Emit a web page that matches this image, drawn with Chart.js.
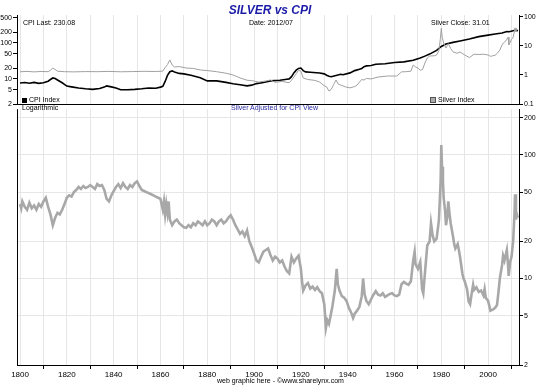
<!DOCTYPE html>
<html>
<head>
<meta charset="utf-8">
<script src="https://cdn.jsdelivr.net/npm/chart.js@4.4.1/dist/chart.umd.min.js"></script>
<style>
body { margin:0; background:#fff; width:540px; height:389px; overflow:hidden; position:relative; font-family:"Liberation Sans", Arial, sans-serif; }
canvas { position:absolute; left:0; }
#topChart { top:0; }
#bottomChart { top:104px; }
.lbl { position:absolute; font-size:7px; color:#000; white-space:nowrap; line-height:7px; }
.sq { display:inline-block; width:5px; height:5px; margin-right:2px; vertical-align:-0.5px; }
#title { position:absolute; top:3px; left:0; width:540px; text-align:center; font:italic bold 12px "Liberation Sans", Arial, sans-serif; color:#1c1ca8; padding-left:-2px; }
</style>
</head>
<body>
<canvas id="topChart" width="540" height="110"></canvas>
<canvas id="bottomChart" width="540" height="285"></canvas>
<div id="title">SILVER vs CPI</div>
<div class="lbl" style="left:23px;top:19px">CPI Last: 230.08</div>
<div class="lbl" style="left:249px;top:19px">Date: 2012/07</div>
<div class="lbl" style="left:431px;top:19px">Silver Close: 31.01</div>
<div class="lbl" style="left:22px;top:96px"><span class="sq" style="background:#000"></span>CPI Index</div>
<div class="lbl" style="left:430px;top:96px"><span class="sq" style="background:#aaa;border:0.5px solid #555;width:4px;height:4px"></span>Silver Index</div>
<div class="lbl" style="left:22px;top:104px">Logarithmic</div>
<div class="lbl" style="left:231px;top:104px;color:#2a2aa0">Silver Adjusted for CPI View</div>
<div class="lbl" style="left:217px;top:377px">web graphic here - ©www.sharelynx.com</div>
<script>
// ---- data ----
const cpiYears = [1800,1802,1804,1806,1808,1810,1812,1813,1814,1815,1816,1818,1820,1822,1825,1828,1831,1834,1836,1837,1839,1841,1843,1846,1849,1852,1855,1858,1860,1861,1862,1863,1864,1865,1866,1868,1870,1873,1875,1877,1880,1884,1888,1891,1894,1897,1899,1901,1904,1907,1911,1914,1915,1916,1917,1918,1919,1920,1921,1922,1924,1928,1930,1931,1932,1933,1935,1937,1938,1941,1943,1945,1946,1947,1948,1950,1952,1956,1960,1964,1968,1971,1973,1975,1978,1980,1982,1985,1988,1992,1996,2000,2003,2006,2008,2009,2011.5,2012.8];
const cpiValues = [7.7,7.9,7.6,8.0,7.5,7.8,8.6,9.6,10.6,10.2,9.3,7.8,6.3,6.0,5.6,5.3,5.1,5.4,5.9,6.4,6.0,5.6,5.0,5.0,5.1,5.3,5.6,5.5,5.9,6.2,8.5,12.5,15.8,16.7,15.5,14.2,13.8,12.6,11.6,10.7,8.8,8.8,8.0,7.3,6.9,6.4,6.7,7.4,7.9,8.8,9.2,9.8,10,11.5,14.7,17.5,19.5,20,17,15.7,15.3,14.6,13.8,12.6,11.9,11.5,12.4,13.4,13.1,14.7,17.0,18.5,19.5,21.8,23,23.5,25.5,26.5,28.5,29.7,33,38,43,49,62,80,94,104,114,129,150,165,178,190,208,206,226,222];

const silverYears = [1800,1803,1806,1809,1812,1813,1814,1815,1816,1819,1823,1828,1833,1838,1843,1848,1853,1858,1861,1862,1863,1864,1865,1866,1868,1871,1874,1877,1880,1884,1888,1891,1893,1894,1897,1899,1902,1905,1907,1909,1912,1915,1916,1917,1918,1919,1920,1921,1923,1926,1928,1930,1931,1932,1933,1934,1935,1936,1937,1939,1941,1943,1944,1946,1947,1948,1950,1953,1957,1961,1963,1965,1967,1968,1969,1970,1971,1972,1973,1974,1975,1977,1978,1979,1979.6,1980,1980.4,1981,1982,1982.6,1983,1984,1985,1986.7,1988,1990,1992,1994,1996,1998,2000,2001,2002,2003,2004,2005,2006,2006.5,2007,2008,2008.5,2008.9,2009.4,2010,2010.6,2011.1,2011.5,2011.9,2012.4,2012.8];
const silverValues = [1.29,1.33,1.28,1.32,1.30,1.45,1.72,1.55,1.35,1.30,1.28,1.31,1.30,1.33,1.29,1.31,1.34,1.32,1.36,1.8,2.3,3.3,2.2,1.9,1.95,1.74,1.68,1.49,1.42,1.30,1.15,1.00,0.86,0.79,0.66,0.64,0.57,0.62,0.67,0.56,0.60,0.54,0.66,0.85,1.1,1.45,1.35,0.79,0.70,0.65,0.57,0.42,0.39,0.28,0.32,0.47,0.67,0.48,0.45,0.39,0.36,0.40,0.45,0.70,0.67,0.76,0.73,0.85,0.92,0.92,1.28,1.30,1.35,2.2,1.9,1.75,1.45,1.55,2.6,3.85,4.5,4.6,4.9,7,18,41,20,12.7,8.5,10.5,12,8.2,6.3,5.6,6.2,4.9,4.0,5.2,5.1,5.2,4.9,4.4,4.6,4.8,5.7,7.2,11,12.7,13.4,17,20,11,13,17,19,28,42,31,33,30];

const ratioYears = [1800,1800.5,1801,1802,1803,1804,1805,1806,1807,1808,1809,1810,1811,1812,1813,1814,1815,1816,1817,1818,1819,1820,1821,1822,1823,1824,1825,1826,1827,1828,1829,1830,1831,1832,1833,1834,1835,1836,1837,1838,1839,1840,1841,1842,1843,1844,1845,1846,1847,1848,1849,1850,1851,1852,1853,1854,1855,1856,1857,1858,1859,1860,1861,1861.5,1862,1862.5,1863,1863.5,1864,1865,1866,1867,1868,1869,1870,1871,1872,1873,1874,1875,1876,1877,1878,1879,1880,1881,1882,1883,1884,1885,1886,1887,1888,1889,1890,1891,1892,1893,1894,1895,1896,1897,1898,1899,1900,1901,1902,1903,1904,1905,1906,1907,1908,1909,1910,1911,1912,1913,1914,1915,1916,1917,1918,1919,1920,1920.5,1921,1922,1923,1924,1925,1926,1927,1928,1929,1930,1930.7,1931.3,1932,1932.7,1933.5,1934.5,1935.3,1935.8,1936.5,1937.5,1938.5,1939.5,1940.5,1941.5,1942.3,1943,1944,1945,1946,1946.6,1947.2,1948,1949,1950,1951,1952,1953,1954,1955,1956,1957,1958,1959,1960,1961,1962,1963,1964,1965,1966,1967,1968,1968.6,1969,1970,1971,1971.8,1972.3,1973,1974,1975,1975.6,1976.3,1977,1978,1979,1979.7,1980,1980.3,1980.7,1981,1981.6,1982,1982.5,1983,1983.5,1984,1985,1985.5,1986,1987,1987.5,1988,1989,1989.5,1990,1991,1991.7,1992.3,1993,1993.6,1994,1995,1996,1997,1998,1998.5,1999,2000,2001,2002,2003,2003.8,2004.5,2005,2006,2006.4,2007,2008,2008.5,2008.8,2009.4,2010,2010.7,2011.3,2011.5,2011.9,2012.3,2012.7];
const ratioValues = [40,37,42,38,36,41,37,39,36,40,38,42,45,38,33,27,31,34,33,36,40,45,47,46,50,52,55,53,56,54,55,57,55,53,58,56,57,52,44,42,47,51,55,58,54,59,55,53,57,55,59,61,56,52,51,50,49,48,47,46,45,44,36,42,33,40,34,42,30,27,29,30,28,27,26,25.7,27,26,28,27,29,28,27,29,27,28,30,29,27,29,30,28,29,31,32.5,30,27,25,23,24,22,24.5,20,18,16,14,13.5,15,16.5,17,17.5,15.5,14,15,14.5,13.5,14,12.5,11.5,11,15,13.5,14.5,15.3,12,9.5,8,8.8,9.2,8.3,8.6,8.1,8.5,7.9,7.6,6.2,4.0,4.6,4.3,5,6,8,12,9,8,7.2,7,6.6,5.8,5.3,4.8,5.2,5.5,5.9,7.2,10,7.5,6.6,6.2,6.8,7.4,7.9,7.4,7.3,7.6,7.1,7.3,7.5,7.6,7.3,7.2,7.4,9,9.4,9.1,8.9,9.5,14,16.4,13,12,13.6,8.2,7.6,11,18.5,20,28,22.3,20,21,30,60,120,80,61,45,35.6,27,31,42,33.5,28,22,19,17.5,19,17,15,11,10,9.5,8.2,6.5,6.2,7.6,8.9,8.1,8.5,7.8,8.0,7.3,8.2,7.0,6.6,5.5,5.6,5.8,6.1,8,10,13,15.3,14,17,13,10.5,13.6,15,20,35,48,30,33,31];

const decades = [1800,1810,1820,1830,1840,1850,1860,1870,1880,1890,1900,1910,1920,1930,1940,1950,1960,1970,1980,1990,2000,2010];
const cpiTicks = [2,5,10,20,50,100,200,500];
const silverTicks = [0.1,1,10,100];
const ratioTicks = [2,5,10,20,50,100,200];

const xMin = 1798.7, xMax = 2013.2;
const gridColor = '#e6e6e6';
const tickFont = { family: 'Liberation Sans', size: 7 };

function pts(xs, ys) { return xs.map((x, i) => ({ x: x, y: ys[i] })); }
function fixTicks(list) { return s => { s.ticks = list.map(v => ({ value: v })); }; }

Chart.defaults.animation = false;
Chart.defaults.font.family = 'Liberation Sans';

// --- top panel: CPI (left) and silver (right) ---
new Chart(document.getElementById('topChart'), {
    type: 'line',
    data: {
        datasets: [
            { data: pts(silverYears, silverValues), yAxisID: 'yR', borderColor: '#a0a0a0', borderWidth: 1, pointRadius: 0 },
            { data: pts(cpiYears, cpiValues), yAxisID: 'yL', borderColor: '#000', borderWidth: 1.6, pointRadius: 0 }
        ]
    },
    options: {
        responsive: false,
        devicePixelRatio: 1,
        layout: { padding: { top: 15, bottom: 6, left: 0, right: 0 } },
        plugins: { legend: { display: false }, tooltip: { enabled: false } },
        scales: {
            x: {
                type: 'linear', min: xMin, max: xMax,
                afterBuildTicks: fixTicks(decades),
                afterFit: s => { s.height = 0; },
                ticks: { display: false },
                grid: { color: gridColor, drawTicks: false },
                border: { display: true, color: '#000' }
            },
            yL: {
                type: 'logarithmic', position: 'left', min: 2, max: 600,
                afterBuildTicks: fixTicks(cpiTicks),
                afterFit: s => { s.width = 17; },
                ticks: { font: tickFont, color: '#000', padding: 1, callback: v => String(v) },
                grid: { drawOnChartArea: false, tickColor: '#000', tickLength: 4 },
                border: { display: true, color: '#000' }
            },
            yR: {
                type: 'logarithmic', position: 'right', min: 0.1, max: 117,
                afterBuildTicks: fixTicks(silverTicks),
                afterFit: s => { s.width = 21; },
                ticks: { font: tickFont, color: '#000', padding: 1, callback: v => String(v) },
                grid: { drawOnChartArea: false, tickColor: '#000', tickLength: 4 },
                border: { display: true, color: '#000' }
            }
        }
    }
});

// --- bottom panel: silver adjusted by CPI ---
const leftLine = {
    id: 'leftLine',
    afterDraw(chart) {
        const a = chart.chartArea, c = chart.ctx;
        c.save();
        c.strokeStyle = '#000';
        c.lineWidth = 1;
        c.beginPath();
        c.moveTo(a.left + 0.5, a.top);
        c.lineTo(a.left + 0.5, a.bottom);
        c.stroke();
        c.restore();
    }
};

new Chart(document.getElementById('bottomChart'), {
    type: 'line',
    data: {
        datasets: [
            { data: pts(ratioYears, ratioValues), yAxisID: 'y', borderColor: '#a8a8a8', borderWidth: 2.6, pointRadius: 0 }
        ]
    },
    options: {
        responsive: false,
        devicePixelRatio: 1,
        layout: { padding: { top: 0, bottom: 0, left: 17, right: 0 } },
        plugins: { legend: { display: false }, tooltip: { enabled: false } },
        scales: {
            x: {
                type: 'linear', min: xMin, max: xMax,
                afterBuildTicks: fixTicks(decades),
                afterFit: s => { s.height = 24; },
                ticks: { font: { family: 'Liberation Sans', size: 8 }, color: '#000', padding: 1, maxRotation: 0, autoSkip: false,
                         callback: v => (v % 20 === 0 ? String(v) : '') },
                grid: { color: gridColor, tickLength: 4,
                        tickColor: ctx => (ctx.tick && ctx.tick.value % 20 === 10 ? '#000' : 'rgba(0,0,0,0)') },
                border: { display: true, color: '#000' }
            },
            y: {
                type: 'logarithmic', position: 'right', min: 2, max: 234,
                afterBuildTicks: fixTicks(ratioTicks),
                afterFit: s => { s.width = 21; },
                ticks: { font: tickFont, color: '#000', padding: 1, callback: v => String(v) },
                grid: { color: gridColor, tickColor: '#000', tickLength: 4 },
                border: { display: true, color: '#000' }
            }
        }
    },
    plugins: [leftLine]
});
</script>
</body>
</html>
